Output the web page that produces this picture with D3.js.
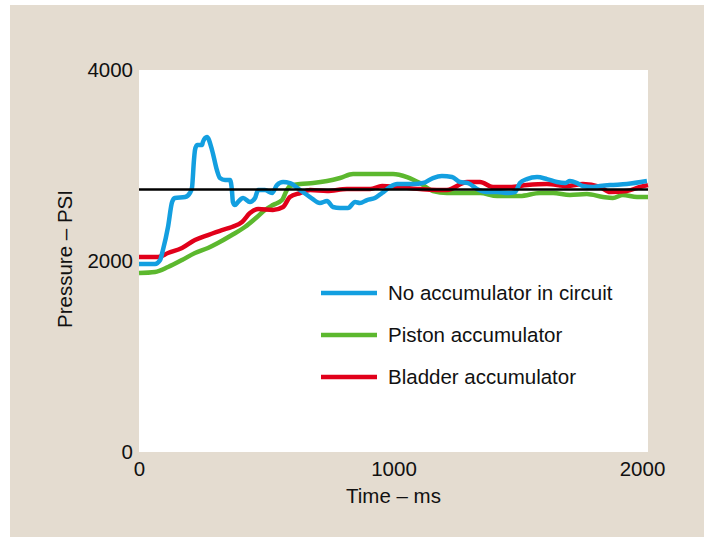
<!DOCTYPE html>
<html>
<head>
<meta charset="utf-8">
<script src="https://cdn.jsdelivr.net/npm/d3@7"></script>
<style>
  body { margin: 0; background: #fff; }
  text { font-family: "Liberation Sans", Arial, sans-serif; fill: #111; }
</style>
</head>
<body>
<div id="chart"></div>
<script>
// Series values: [time ms, pressure psi]
var noAccumulator = [
  [0,1968],[63,1968],[83,2010],[94,2115],[114,2356],[130,2618],[141,2659],[181,2670],
  [200,2712],[208,2764],[216,3057],[220,3162],[228,3214],[248,3214],[251,3246],[267,3298],
  [287,3162],[306,2953],[318,2869],[338,2848],[358,2848],[365,2743],[369,2618],[377,2586],
  [389,2618],[409,2659],[436,2618],[456,2659],[468,2743],[495,2743],[523,2712],[542,2795],
  [566,2827],[593,2816],[633,2743],[672,2670],[711,2607],[739,2628],[762,2565],[790,2555],
  [821,2555],[849,2618],[868,2607],[896,2638],[927,2659],[955,2712],[986,2775],[1014,2806],
  [1077,2806],[1116,2816],[1155,2869],[1190,2890],[1230,2879],[1261,2827],[1293,2816],
  [1328,2754],[1367,2722],[1407,2722],[1450,2712],[1477,2722],[1497,2816],[1524,2858],
  [1564,2879],[1603,2858],[1642,2827],[1674,2816],[1693,2837],[1721,2816],[1744,2785],
  [1780,2775],[1811,2785],[1851,2795],[1917,2806],[1996,2837]
];
var pistonAccumulator = [
  [0,1874],[63,1885],[114,1937],[169,2010],[220,2084],[271,2136],[310,2188],[365,2272],
  [416,2356],[464,2460],[495,2534],[526,2586],[562,2638],[581,2743],[593,2785],[633,2806],
  [684,2816],[739,2837],[790,2869],[841,2911],[998,2911],[1053,2879],[1104,2816],[1155,2733],
  [1210,2712],[1289,2712],[1340,2712],[1407,2680],[1497,2680],[1576,2712],[1627,2712],
  [1693,2691],[1760,2701],[1823,2670],[1862,2659],[1901,2691],[1957,2670],[2000,2670]
];
var bladderAccumulator = [
  [0,2042],[75,2042],[114,2084],[169,2136],[220,2220],[271,2272],[326,2324],[365,2356],
  [405,2408],[436,2502],[468,2544],[526,2534],[566,2565],[593,2670],[633,2712],[672,2743],
  [739,2733],[817,2754],[908,2754],[955,2785],[1104,2754],[1210,2743],[1289,2827],[1340,2827],
  [1391,2775],[1458,2775],[1524,2795],[1603,2806],[1682,2785],[1744,2806],[1811,2775],
  [1851,2722],[1917,2733],[1968,2775],[2000,2795]
];
var referencePressure = 2750;
var seriesNames = ["No accumulator in circuit", "Piston accumulator", "Bladder accumulator"];
var seriesColors = ["#139fe0", "#5cb82e", "#e1001a"];
var xTicks = [0, 1000, 2000];
var yTicks = [0, 2000, 4000];

var width = 716, height = 542;
var plot = {left: 139, top: 70, right: 648, bottom: 452};
var fontSize = "20.5px";

var svg = d3.select("#chart").append("svg")
    .attr("width", width).attr("height", height);

// beige panel and white plot area
svg.append("rect").attr("x", 10).attr("y", 5).attr("width", 694).attr("height", 532)
   .attr("fill", "#e4dcd0");
svg.append("rect").attr("x", plot.left).attr("y", plot.top)
   .attr("width", plot.right - plot.left).attr("height", plot.bottom - plot.top)
   .attr("fill", "#fff");

var x = d3.scaleLinear().domain([0, 2000]).range([plot.left, plot.right]);
var y = d3.scaleLinear().domain([0, 4000]).range([plot.bottom, plot.top]);

// axes drawn only as labels (no lines in the original)
var xAxis = svg.append("g").attr("transform", "translate(0," + (plot.bottom + 6) + ")")
   .call(d3.axisBottom(x).tickValues(xTicks).tickSize(0).tickPadding(0).tickFormat(d3.format("d")));
var yAxis = svg.append("g").attr("transform", "translate(" + (plot.left - 6) + ",0)")
   .call(d3.axisLeft(y).tickValues(yTicks).tickSize(0).tickPadding(0).tickFormat(d3.format("d")));
xAxis.select(".domain").remove();
yAxis.select(".domain").remove();
xAxis.selectAll("text").style("font-size", fontSize).attr("dy", "0.9em")
   .attr("font-family", null).attr("fill", "#111")
   .attr("x", function(d) { return d == 2000 ? -6 : 0; }); // last label pulled in a bit
yAxis.selectAll("text").style("font-size", fontSize)
   .attr("font-family", null).attr("fill", "#111");

svg.append("text").text("Time \u2013 ms")
   .attr("x", x(1000)).attr("y", 503).attr("text-anchor", "middle").style("font-size", fontSize);
svg.append("text").text("Pressure \u2013 PSI")
   .attr("transform", "translate(72," + (y(2000) - 2) + ") rotate(-90)")
   .attr("text-anchor", "middle").style("font-size", fontSize);

var line = d3.line()
   .x(function(d) { return x(d[0]); })
   .y(function(d) { return y(d[1]); })
   .curve(d3.curveMonotoneX);

var allSeries = [noAccumulator, pistonAccumulator, bladderAccumulator];
// draw piston, bladder, then no-accumulator on top
[1, 2, 0].forEach(function(i) {
  svg.append("path").datum(allSeries[i])
     .attr("d", line)
     .attr("fill", "none")
     .attr("stroke", seriesColors[i])
     .attr("stroke-width", 4.5)
     .attr("stroke-linejoin", "round");
});

// reference line
svg.append("line")
   .attr("x1", x(0)).attr("x2", x(2000))
   .attr("y1", y(referencePressure)).attr("y2", y(referencePressure))
   .attr("stroke", "#000").attr("stroke-width", 2.5);

// legend
var legendY = [293, 335, 377];
seriesNames.forEach(function(name, i) {
  svg.append("line").attr("x1", 321).attr("x2", 377)
     .attr("y1", legendY[i]).attr("y2", legendY[i])
     .attr("stroke", seriesColors[i]).attr("stroke-width", 4.5);
  svg.append("text").text(name).attr("x", 388).attr("y", legendY[i])
     .attr("dy", "0.35em").style("font-size", fontSize);
});
</script>
</body>
</html>
